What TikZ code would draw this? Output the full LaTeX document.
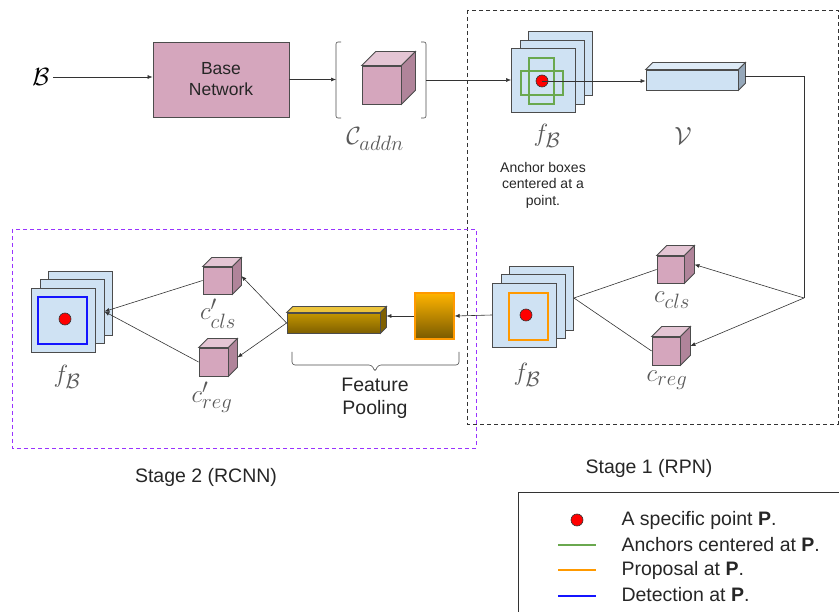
\documentclass[tikz,border=0pt]{standalone}
\usepackage{amsmath}
\usepackage{fontspec}
\setsansfont{Liberation Sans}
\usetikzlibrary{positioning,calc,arrows.meta}
\definecolor{netpink}{RGB}{213,166,189}
\definecolor{pinktop}{RGB}{228,197,212}
\definecolor{pinkside}{RGB}{176,132,154}
\definecolor{mapblue}{RGB}{207,226,243}
\definecolor{bluetop}{RGB}{222,235,247}
\definecolor{blueside}{RGB}{150,168,186}
\definecolor{anchorgreen}{RGB}{106,168,79}
\definecolor{proporange}{RGB}{255,153,0}
\definecolor{detblue}{RGB}{20,20,255}
\definecolor{pointred}{RGB}{255,0,0}
\definecolor{goldtop}{RGB}{236,196,60}
\definecolor{goldmid}{RGB}{196,150,0}
\definecolor{golddark}{RGB}{127,96,0}
\definecolor{roitop}{RGB}{255,180,0}
\definecolor{roibot}{RGB}{120,90,0}
\definecolor{stagepurple}{RGB}{153,51,255}

% cube: name, centre, width, height, depth, front, top, side
\newcommand{\cubeat}[8]{%
  \node[face, #6, minimum width=#3, minimum height=#4] (#1) at #2 {};
  \draw[face, #7] (#1.north west) -- ++(#5,-#5) -- ($(#1.north east)+(#5,-#5)$) -- (#1.north east) -- cycle;
  \draw[face, #8] (#1.north east) -- ++(#5,-#5) -- ($(#1.south east)+(#5,-#5)$) -- (#1.south east) -- cycle;
  \coordinate (#1-r) at ($(#1.east)+(#5,-#5/2)$);
}
% stack of three feature maps: name, centre, size
\newcommand{\mapstack}[3]{%
  \node[face, fill=mapblue, minimum size=#3] (#1-b) at ($#2+(17,-17)$) {};
  \node[face, fill=mapblue, minimum size=#3] (#1-m) at ($#2+(8.5,-8.5)$) {};
  \node[face, fill=mapblue, minimum size=#3] (#1) at #2 {};
}

\begin{document}
\begin{tikzpicture}[x=1pt,y=-1pt,
  face/.style={draw=black!70, line width=0.8pt, inner sep=0pt},
  conn/.style={draw=black!80, line width=0.6pt},
  arr/.style={conn, -{Latex[length=5pt,width=4pt]}},
  sans/.style={font=\sffamily\fontsize{19.5}{23}\selectfont, align=center, text=black!85},
  mathlbl/.style={font=\fontsize{32}{34}\selectfont, text=black!65},
  dot/.style={circle, fill=pointred, draw=black!80, line width=0.6pt, inner sep=0pt, minimum size=12},
  stagebox/.style={line width=0.6pt, dash pattern=on 4pt off 3pt}]
\useasboundingbox (0,0) rectangle (839,612);

% Stage frames
\draw[stagebox, black!80] (467,10) rectangle (838,424);
\draw[stagebox, stagepurple] (12,229) rectangle (476,448);

% Input and base network
\node[font=\fontsize{34}{36}\selectfont] (img) at (41,77) {$\mathcal{B}$};
\node[face, fill=netpink, minimum width=136, minimum height=75, sans,
  font=\sffamily\fontsize{17.5}{21}\selectfont] (base) at (221,79.5) {Base\\Network};
\draw[arr] (img.east) -- (img.east -| base.west);

% additional layers in brackets
\coordinate (addnL) at (336,80);
\coordinate (addnR) at (426,80);
\draw[conn, black!70, rounded corners=2pt] (341,42) -- (336,42) -- (336,118) -- (341,118);
\draw[conn, black!70, rounded corners=2pt] (421,42) -- (426,42) -- (426,118) -- (421,118);
\cubeat{caddn}{(381.5,85)}{39}{38}{14}{fill=netpink}{fill=pinktop}{fill=pinkside}
\draw[arr] (base.east) -- (base.east -| addnL);
\node[mathlbl] (caddnlbl) at (375,139) {$\mathcal{C}_{addn}$};

% Stage 1: RPN
\mapstack{ftop}{(543.5,80.5)}{64}
\draw[anchorgreen, line width=1.2pt] ($(ftop)+(-14.5,-22.5)$) rectangle ($(ftop)+(10.5,23.5)$);
\draw[anchorgreen, line width=1.2pt] ($(ftop)+(-22.5,-9.5)$) rectangle ($(ftop)+(19.5,14.5)$);
\node[dot] (ptop) at (542,81) {};
\draw[arr] (addnR) -- (addnR -| ftop.west);
\node[mathlbl] (ftoplbl) at (547,136) {$f_{\mathcal{B}}$};
\node[sans, font=\sffamily\fontsize{14}{16.5}\selectfont] (anchtxt) at (543,185) {Anchor boxes\\centered at a\\point.};

\cubeat{vvec}{(692,80)}{92}{20}{7}{fill=mapblue}{fill=bluetop}{fill=blueside}
\draw[arr] (ptop.center) -- (ptop.center -| vvec.west);
\node[mathlbl, font=\fontsize{33}{35}\selectfont] (vlbl) at (683,136) {$\mathcal{V}$};

\coordinate (turn) at (804,298);
\draw[conn] (vvec-r) -| (turn);
\cubeat{ccls}{(670.5,269.5)}{27}{27}{10}{fill=netpink}{fill=pinktop}{fill=pinkside}
\cubeat{creg}{(666,351)}{28}{28}{10}{fill=netpink}{fill=pinktop}{fill=pinkside}
\draw[arr] (turn) -- (ccls-r);
\draw[arr] (turn) -- (creg-r);
\node[mathlbl] (ccllbl) at (672,300) {$c_{cls}$};
\node[mathlbl] (creglbl) at (667,380) {$c_{reg}$};

\mapstack{fmid}{(524.5,315)}{64}
\draw[proporange, line width=1.2pt] ($(fmid)+(-15.5,-22)$) rectangle ($(fmid)+(23.5,25)$);
\node[dot] (pmid) at (526,315) {};
\draw[conn] (fmid-b.east) -- (ccls.west);
\draw[conn] (fmid-b.east) -- (creg.west);
\node[mathlbl] (fmidlbl) at (527,375) {$f_{\mathcal{B}}$};

% Stage 2: RCNN
\node[face, draw=proporange, line width=1.2pt, top color=roitop, bottom color=roibot,
  minimum width=39, minimum height=46] (roi) at (434.5,316) {};
\draw[arr] (fmid.west) -- (roi.east);
\cubeat{pool}{(333.5,323)}{93}{20}{6}{top color=goldmid, bottom color=golddark}{fill=goldtop}{fill=golddark}
\draw[arr] (roi.west) -- (roi.west -| pool-r);
% pooling bracket
\draw[conn, black!70, rounded corners=3pt] (292,352) -- (292,365) -- (372,365) -- (375,372)
  -- (378,365) -- (459,365) -- (459,352);
\node[sans] (pooltxt) at (375,398) {Feature\\Pooling};

\cubeat{ccls2}{(217.5,280.5)}{29}{27}{9}{fill=netpink}{fill=pinktop}{fill=pinkside}
\cubeat{creg2}{(213.5,362)}{29}{28}{9}{fill=netpink}{fill=pinktop}{fill=pinkside}
\draw[arr] (pool.west) -- (ccls2-r);
\draw[arr] (pool.west) -- (creg2-r);
\node[mathlbl] (ccl2lbl) at (218,314) {$c'_{cls}$};
\node[mathlbl] (creg2lbl) at (212,397) {$c'_{reg}$};

\mapstack{fleft}{(63.5,320)}{64}
\draw[detblue, line width=1.5pt] ($(fleft)+(-25.5,-23)$) rectangle ($(fleft)+(23.5,24)$);
\node[dot] (pleft) at (65,319) {};
\draw[arr] (ccls2.west) -- (fleft-m.east);
\draw[arr] (creg2.west) -- (fleft-m.east);
\node[mathlbl] (fleftlbl) at (67,377) {$f_{\mathcal{B}}$};

% Stage captions
\node[sans] (s1) at (649,468) {Stage 1 (RPN)};
\node[sans] (s2) at (206,477) {Stage 2 (RCNN)};

% Legend
\draw[line width=0.8pt, black!80] (518,492) rectangle (845,620);
\node[dot] (lgdot) at (577,520) {};
\draw[anchorgreen, line width=2.5pt] (558,545) -- (596,545);
\draw[proporange, line width=2.5pt] (558,570) -- (596,570);
\draw[detblue, line width=2.5pt] (558,596) -- (596,596);
\node[sans, anchor=west] (lg1) at (618,520) {A specific point \textbf{P}.};
\node[sans, anchor=west] (lg2) at (618,545) {Anchors centered at \textbf{P}.};
\node[sans, anchor=west] (lg3) at (618,570) {Proposal at \textbf{P}.};
\node[sans, anchor=west] (lg4) at (618,595) {Detection at \textbf{P}.};
\end{tikzpicture}
\end{document}
